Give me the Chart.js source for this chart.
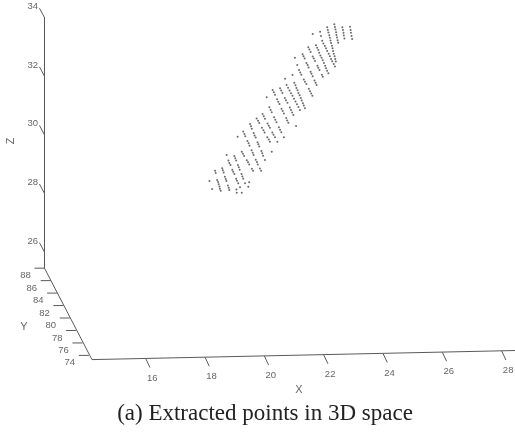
<!DOCTYPE html>
<html>
<head>
<meta charset="utf-8">
<style>body{margin:0;background:#fff}canvas{display:block}</style>
<script src="https://cdn.jsdelivr.net/npm/chart.js@4"></script>
</head>
<body>
<canvas id="cloudchart" width="515" height="432"></canvas>
<script>
var xTicks = [16, 18, 20, 22, 24, 26, 28];
var yTicks = [88, 86, 84, 82, 80, 78, 76, 74];
var zTicks = [34, 32, 30, 28, 26];
var caption = '(a) Extracted points in 3D space';

// points as they read on the view plane, strip by strip
var cloudX = [
  18.15,18.24,
  18.34,18.36,18.41,18.44,18.46,18.49,18.50,18.53,
  18.58,18.60,18.63,18.67,18.70,18.72,18.77,18.80,18.82,
  18.73,18.79,18.82,18.86,18.92,18.95,18.99,19.05,19.08,19.12,19.18,19.24,19.06,19.07,
  18.99,19.02,19.05,19.11,19.14,19.17,19.23,19.26,19.29,19.35,
  19.24,19.28,19.32,19.41,19.45,19.49,19.58,19.62,19.49,19.46,
  19.10,19.29,19.33,19.36,19.43,19.47,19.50,19.57,19.61,19.64,19.71,19.75,19.78,19.85,19.89,
  19.52,19.55,19.58,19.64,19.67,19.71,19.77,19.80,19.83,19.90,19.93,19.96,20.02,
  19.74,19.79,19.83,19.92,19.97,20.01,20.10,20.15,20.19,
  19.94,19.98,20.02,20.11,20.15,20.19,20.27,20.31,20.36,20.44,
  20.08,20.17,20.21,20.25,20.33,20.37,20.41,20.49,20.53,20.57,20.66,
  20.28,20.32,20.36,20.43,20.47,20.51,20.58,20.62,20.66,20.74,20.77,20.81,
  20.53,20.57,20.61,20.69,20.73,20.78,20.86,20.90,20.94,20.98,
  20.70,20.75,20.80,20.85,20.90,20.95,21.00,21.05,21.10,21.15,21.20,
  20.95,21.01,21.05,21.08,21.12,21.15,21.19,21.23,21.26,21.30,21.33,21.37,
  21.03,21.11,21.17,21.21,21.25,21.33,21.37,21.42,21.50,21.54,21.58,21.62,
  21.29,21.32,21.36,21.42,21.46,21.49,21.56,21.59,21.63,21.69,21.73,21.76,
  21.48,21.52,21.56,21.63,21.67,21.71,21.79,21.82,21.86,21.94,21.97,
  21.63,21.74,21.78,21.82,21.85,21.89,21.93,21.97,22.01,22.05,22.08,22.12,22.16,
  21.88,21.91,21.95,21.99,22.04,22.08,22.12,22.17,22.21,22.25,22.29,22.34,22.38,
  22.12,22.14,22.16,22.19,22.21,22.23,22.25,22.28,22.30,22.32,22.34,22.37,22.39,22.41,
  22.36,22.38,22.40,22.42,22.43,22.45,22.47,22.49,
  22.63,22.65,22.67,22.68,22.70,
  22.89,22.91,22.92,22.94,22.96,
  21.07,20.25
];
var cloudZ = [
  28.42,28.15,
  28.77,28.70,28.46,28.39,28.31,28.24,28.16,28.09,
  28.86,28.79,28.71,28.57,28.49,28.42,28.27,28.19,28.12,
  29.31,29.12,29.04,28.97,28.81,28.74,28.66,28.50,28.43,28.35,28.21,28.02,28.13,28.02,
  29.28,29.20,29.12,28.97,28.89,28.81,28.66,28.58,28.50,28.35,
  29.42,29.35,29.28,29.13,29.06,28.99,28.84,28.77,28.38,28.23,
  29.93,30.11,30.03,29.95,29.79,29.71,29.63,29.47,29.39,29.31,29.15,29.07,28.99,28.85,28.77,
  30.37,30.29,30.21,30.06,29.98,29.91,29.75,29.68,29.60,29.45,29.37,29.29,29.14,
  30.56,30.48,30.40,30.24,30.16,30.08,29.92,29.84,29.76,
  30.71,30.63,30.55,30.39,30.31,30.24,30.08,30.00,29.92,29.76,
  31.28,30.94,30.85,30.77,30.60,30.51,30.43,30.26,30.17,30.09,29.92,
  31.53,31.45,31.37,31.21,31.13,31.05,30.89,30.81,30.73,30.57,30.49,30.41,
  31.59,31.51,31.43,31.26,31.18,31.09,30.93,30.85,30.76,30.68,
  31.91,31.70,31.61,31.51,31.42,31.33,31.23,31.14,31.04,30.95,30.85,
  32.04,31.78,31.69,31.60,31.52,31.43,31.35,31.26,31.17,31.08,31.00,30.91,
  32.63,32.38,32.21,32.13,32.05,31.89,31.81,31.73,31.57,31.49,31.41,31.33,
  32.75,32.68,32.60,32.45,32.38,32.30,32.15,32.08,32.00,31.85,31.78,31.70,
  32.99,32.91,32.83,32.67,32.60,32.52,32.36,32.29,32.21,32.05,31.98,
  33.44,33.06,32.97,32.89,32.80,32.71,32.63,32.54,32.45,32.36,32.27,32.19,32.10,
  33.52,33.37,33.21,33.12,33.03,32.95,32.86,32.77,32.68,32.59,32.51,32.42,32.33,
  33.67,33.58,33.49,33.40,33.31,33.22,33.13,33.04,32.95,32.86,32.77,32.68,32.59,32.50,
  33.77,33.68,33.59,33.50,33.41,33.32,33.23,33.14,
  33.67,33.58,33.48,33.39,33.29,
  33.69,33.58,33.48,33.37,33.27,
  30.30,29.42
];

var axisColor = '#5a5a5a';
var labelColor = '#666';

// where a tick of each axis sits on the flat view
function xAxisPoint(v) { return {x: v, y: 22.33 + 0.0215 * (v - 14.19)}; }
function yAxisPoint(v) { return {x: 12.59 + 0.1068 * (88 - v), y: 25.45 - 0.2126 * (88 - v)}; }
function zAxisPoint(v) { return {x: 12.59, y: v}; }

function tickLine(p, dx, dy) {
  return {
    data: [p, {x: p.x + dx, y: p.y + dy}],
    showLine: true, borderColor: axisColor, borderWidth: 1, pointRadius: 0
  };
}

var datasets = [{
  data: cloudX.map(function(v, i) { return {x: v, y: cloudZ[i]}; }),
  pointRadius: 1, pointBorderWidth: 0, pointBackgroundColor: 'rgba(80,80,80,0.85)'
}, {
  data: [{x: 12.59, y: 34}, {x: 12.59, y: 25.45}, {x: 14.19, y: 22.33}, {x: 28.45, y: 22.64}],
  showLine: true, borderColor: axisColor, borderWidth: 1, pointRadius: 0
}];
xTicks.forEach(function(v) { datasets.push(tickLine(xAxisPoint(v), 0.145, -0.31)); });
yTicks.forEach(function(v) { datasets.push(tickLine(yAxisPoint(v), -0.34, 0)); });
zTicks.forEach(function(v) { datasets.push(tickLine(zAxisPoint(v), -0.17, 0.32)); });

var axisText = {
  id: 'axisText',
  afterDraw: function(chart) {
    var c = chart.ctx, sx = chart.scales.x, sy = chart.scales.y;
    function put(p, ox, oy, t) {
      c.fillText(t, sx.getPixelForValue(p.x) + ox, sy.getPixelForValue(p.y) + oy);
    }
    c.save();
    c.textAlign = 'center';
    c.textBaseline = 'middle';
    c.fillStyle = labelColor;
    c.font = '9.5px "Liberation Sans"';
    xTicks.forEach(function(v) { put(xAxisPoint(v), 6.5, 19.5, String(v)); });
    yTicks.forEach(function(v) { put(yAxisPoint(v), -19, 7.4, String(v)); });
    zTicks.forEach(function(v) { put(zAxisPoint(v), -11.8, -11, String(v)); });
    c.font = '11px "Liberation Sans"';
    c.fillText('X', 299, 390);
    c.fillText('Y', 24, 327);
    c.save();
    c.translate(11, 141);
    c.rotate(-Math.PI / 2);
    c.fillText('Z', 0, 0);
    c.restore();
    c.fillStyle = '#222';
    c.font = '23px "Liberation Serif"';
    c.fillText(caption, 265, 414);
    c.restore();
  }
};

var ctx = document.getElementById('cloudchart').getContext('2d');
var cloudchart = new Chart(ctx, {
  type: 'scatter',
  data: {datasets: datasets},
  options: {
    responsive: false,
    animation: false,
    layout: {padding: 0, autoPadding: false},
    plugins: {legend: {display: false}, tooltip: {enabled: false}},
    scales: {
      x: {type: 'linear', display: false, min: 11.09, max: 28.45},
      y: {type: 'linear', display: false, min: 19.86, max: 34.6}
    }
  },
  plugins: [axisText]
});
</script>
</body>
</html>
